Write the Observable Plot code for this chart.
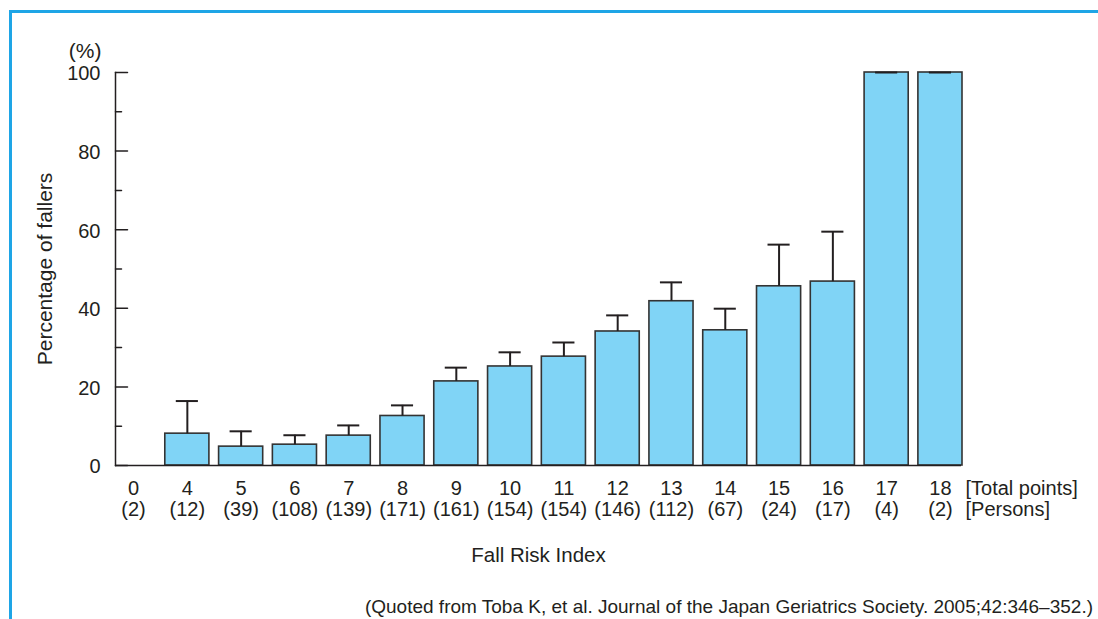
<!DOCTYPE html>
<html><head><meta charset="utf-8">
<script src="https://cdn.jsdelivr.net/npm/d3@7"></script>
<script src="https://cdn.jsdelivr.net/npm/@observablehq/plot@0.6"></script>
<style>
body{margin:0;background:#fff;font-family:"Liberation Sans",Arial,sans-serif;}
#border{position:absolute;left:9px;top:10px;right:0;bottom:0;border-top:3px solid #1ea5e6;border-left:3px solid #1ea5e6;}
#chart{position:absolute;left:0;top:0;}
#caption{position:absolute;right:5px;top:597px;font-size:19px;line-height:19px;color:#231f20;white-space:nowrap;}
</style></head><body>
<div id="border"></div>
<div id="chart"></div>
<div id="caption">(Quoted from Toba K, et al. Journal of the Japan Geriatrics Society. 2005;42:346–352.)</div>
<script>
const points = ["0","4","5","6","7","8","9","10","11","12","13","14","15","16","17","18"];
const persons = [2,12,39,108,139,171,161,154,154,146,112,67,24,17,4,2];
const fallers = [0,8.1,4.8,5.3,7.6,12.6,21.4,25.2,27.7,34.1,41.8,34.4,45.6,46.8,100,100];
const upper = [null,16.4,8.7,7.7,10.2,15.3,24.9,28.8,31.3,38.2,46.6,39.9,56.2,59.5,100,100];
const yTicks = [0,20,40,60,80,100];
const yMinorTicks = [10,30,50,70,90];
const yLabel = "Percentage of fallers";
const xLabel = "Fall Risk Index";
const unitLabel = "(%)";
const rowLabels = "[Total points]\n[Persons]";

const data = points.map((p, i) => ({points: p, persons: persons[i], value: fallers[i], upper: upper[i]}));
const ink = "#231f20";
const tickShape = {draw(ctx, l) { ctx.moveTo(0, 0); ctx.lineTo(0, -l); }};

const chart = Plot.plot({
  width: 1098,
  height: 575,
  marginTop: 72,
  marginBottom: 110,
  marginLeft: 115,
  marginRight: 137,
  style: {fontFamily: '"Liberation Sans", Arial, sans-serif', color: ink, background: "transparent"},
  x: {type: "band", domain: points, range: [111, 962], round: false, paddingInner: 0.18, paddingOuter: 0, align: 0.5},
  y: {domain: [0, 100]},
  marks: [
    Plot.barY(data.filter(d => d.value > 0), {x: "points", y: "value", fill: "#80d4f6", stroke: "#333333", strokeWidth: 1.6}),
    Plot.ruleX(data.filter(d => d.upper != null), {x: "points", y1: "value", y2: "upper", stroke: ink, strokeWidth: 2}),
    Plot.tickY(data.filter(d => d.upper != null), {x: "points", y: "upper", inset: 11, stroke: ink, strokeWidth: 2}),
    Plot.frame({anchor: "left", stroke: ink, strokeWidth: 1.5}),
    Plot.ruleY([0], {stroke: ink, strokeWidth: 1.5}),
    Plot.vector(yTicks, {y: d => d, frameAnchor: "left", length: 12, rotate: 90, anchor: "start", shape: tickShape, stroke: ink, strokeWidth: 1.5}),
    Plot.vector(yMinorTicks, {y: d => d, frameAnchor: "left", length: 6, rotate: 90, anchor: "start", shape: tickShape, stroke: ink, strokeWidth: 1.5}),
    Plot.axisY(yTicks, {anchor: "left", tickSize: 0, tickPadding: 15, fontSize: 20, label: null, dy: 1.5}),
    Plot.axisX({anchor: "bottom", tickSize: 0, tickPadding: 14, fontSize: 20, lineHeight: 1.08, label: null,
      tickFormat: (d) => `${d}\n(${persons[points.indexOf(d)]})`}),
    Plot.text([rowLabels], {frameAnchor: "bottom-right", dx: 4, dy: 14, textAnchor: "start", lineAnchor: "top", fontSize: 20, lineHeight: 1.08, fill: ink}),
    Plot.text([xLabel], {frameAnchor: "bottom", dy: 82, lineAnchor: "top", fontSize: 20.5, fill: ink}),
    Plot.text([yLabel], {frameAnchor: "left", dx: -70, rotate: -90, textAnchor: "middle", lineAnchor: "middle", fontSize: 21, fill: ink}),
    Plot.text([unitLabel], {frameAnchor: "top-left", dx: -14, dy: -21, textAnchor: "end", lineAnchor: "middle", fontSize: 21, fill: ink})
  ]
});
document.getElementById("chart").appendChild(chart);
</script>
</body></html>
